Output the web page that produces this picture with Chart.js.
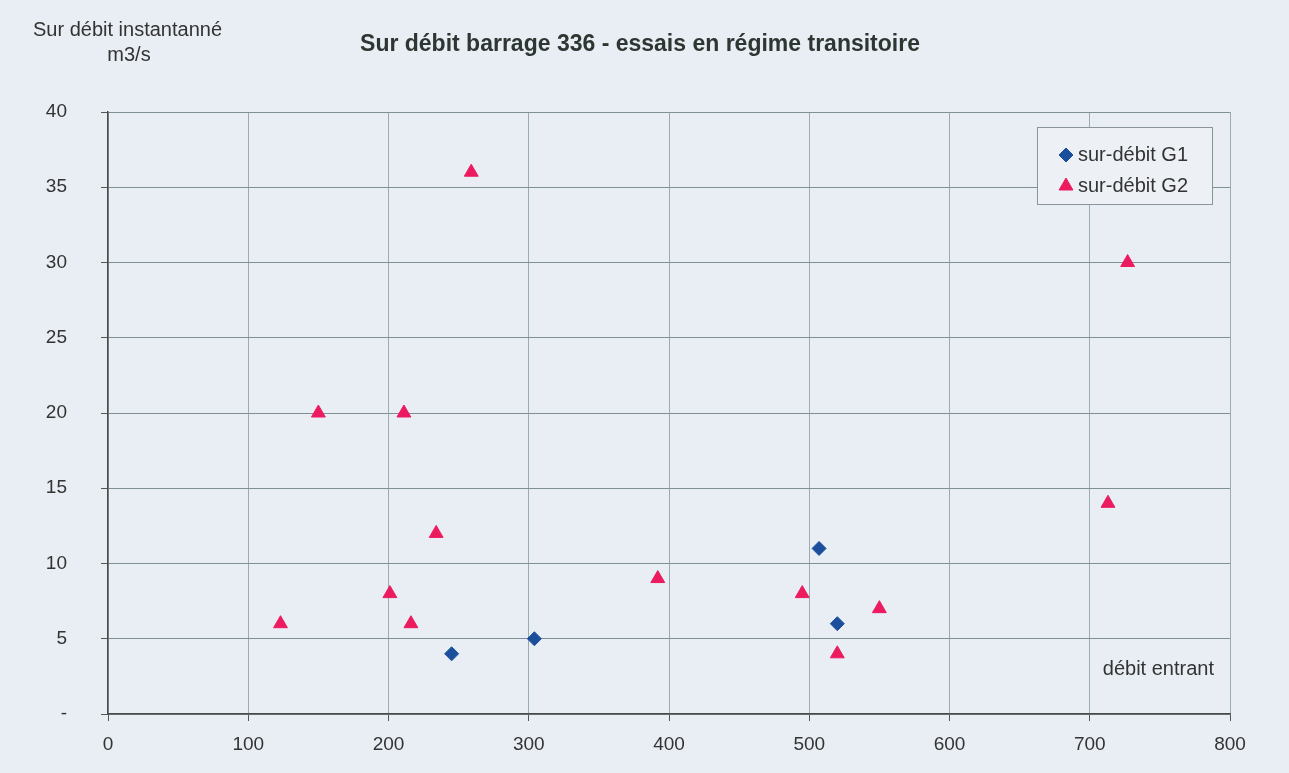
<!DOCTYPE html>
<html>
<head>
<meta charset="utf-8">
<script src="https://cdn.jsdelivr.net/npm/chart.js@4"></script>
<style>
  html, body { margin: 0; padding: 0; background: #e8eef4; }
  #wrap { width: 1289px; height: 773px; position: relative; }
</style>
</head>
<body>
<div id="wrap"><canvas id="myChart" width="1289" height="773"></canvas></div>
<script>
// data
var g1X = [245, 304, 507, 520];
var g1Y = [4, 5, 11, 6];
var g2X = [123, 150, 201, 211, 216, 234, 259, 392, 495, 520, 550, 713, 727];
var g2Y = [6, 20, 8, 20, 6, 12, 36, 9, 8, 4, 7, 14, 30];
var seriesNames = ["sur-débit G1", "sur-débit G2"];
var chartTitle = "Sur débit barrage 336 - essais en régime transitoire";
var yTitle = ["Sur débit instantanné", "m3/s"];
var xTitle = "débit entrant";

function pts(xs, ys) {
  return xs.map(function (x, i) { return {x: x, y: ys[i]}; });
}

var font = "'Liberation Sans', Arial, sans-serif";

// texts and legend drawn by hand so they sit where the scan has them
var textPlugin = {
  id: "texts",
  afterDraw: function (chart) {
    var c = chart.ctx, a = chart.chartArea;
    c.save();
    c.fillStyle = "#2e3632";
    c.textBaseline = "middle";
    c.font = "bold 23px " + font;
    c.textAlign = "center";
    c.fillText(chartTitle, 640, 45);
    c.font = "20px " + font;
    c.fillStyle = "#333";
    c.textAlign = "left";
    c.fillText(yTitle[0], 33, 30);
    c.textAlign = "center";
    c.fillText(yTitle[1], 129, 55);
    c.textAlign = "right";
    c.fillText(xTitle, a.right - 16, a.bottom - 45);

    // legend box
    var lx = 1037, ly = 127, lw = 175, lh = 77;
    c.fillStyle = "#edf1f5";
    c.fillRect(lx, ly, lw, lh);
    c.strokeStyle = "#8a9599";
    c.lineWidth = 1;
    c.strokeRect(lx + 0.5, ly + 0.5, lw, lh);
    chart.data.datasets.forEach(function (ds, i) {
      var cy = ly + 28 + i * 31;
      c.fillStyle = ds.backgroundColor;
      c.strokeStyle = ds.borderColor;
      c.lineWidth = 1;
      Chart.helpers.drawPoint(c, {pointStyle: ds.pointStyle, radius: ds.pointRadius, borderWidth: 1, rotation: 0}, lx + 29, cy);
      c.fillStyle = "#333";
      c.textAlign = "left";
      c.font = "20px " + font;
      c.fillText(ds.label, lx + 41, cy);
    });
    c.restore();
  }
};

const ctx = document.getElementById("myChart");
const chart1 = new Chart(ctx, {
  type: "scatter",
  data: {
    datasets: [{
      label: seriesNames[0],
      data: pts(g1X, g1Y),
      pointStyle: "rectRot",
      pointRadius: 7,
      backgroundColor: "#1b4f9c",
      borderColor: "#1b4f9c"
    }, {
      label: seriesNames[1],
      data: pts(g2X, g2Y),
      pointStyle: "triangle",
      pointRadius: 8,
      backgroundColor: "#ec1a5e",
      borderColor: "#ec1a5e"
    }]
  },
  options: {
    responsive: false,
    animation: false,
    layout: {padding: {top: 112, right: 59, left: 0, bottom: 0}},
    plugins: {
      legend: {display: false},
      title: {display: false},
      tooltip: {enabled: false}
    },
    scales: {
      x: {
        type: "linear",
        min: 0, max: 800,
        ticks: {stepSize: 100, color: "#333", font: {family: font, size: 19}, padding: 12},
        grid: {color: "#9aabb1", tickLength: 7, tickColor: "#555"},
        border: {color: "#4a4a4a", width: 1.5},
        afterFit: function (s) { s.height = 59; }
      },
      y: {
        min: 0, max: 40,
        ticks: {
          stepSize: 5, color: "#333", font: {family: font, size: 19}, padding: 34,
          callback: function (v) { return v === 0 ? "-" : v; }
        },
        grid: {color: "#7f8f95", tickLength: 7, tickColor: "#555"},
        border: {color: "#4a4a4a", width: 1.5},
        afterFit: function (s) { s.width = 108; }
      }
    }
  },
  plugins: [textPlugin]
});
</script>
</body>
</html>
